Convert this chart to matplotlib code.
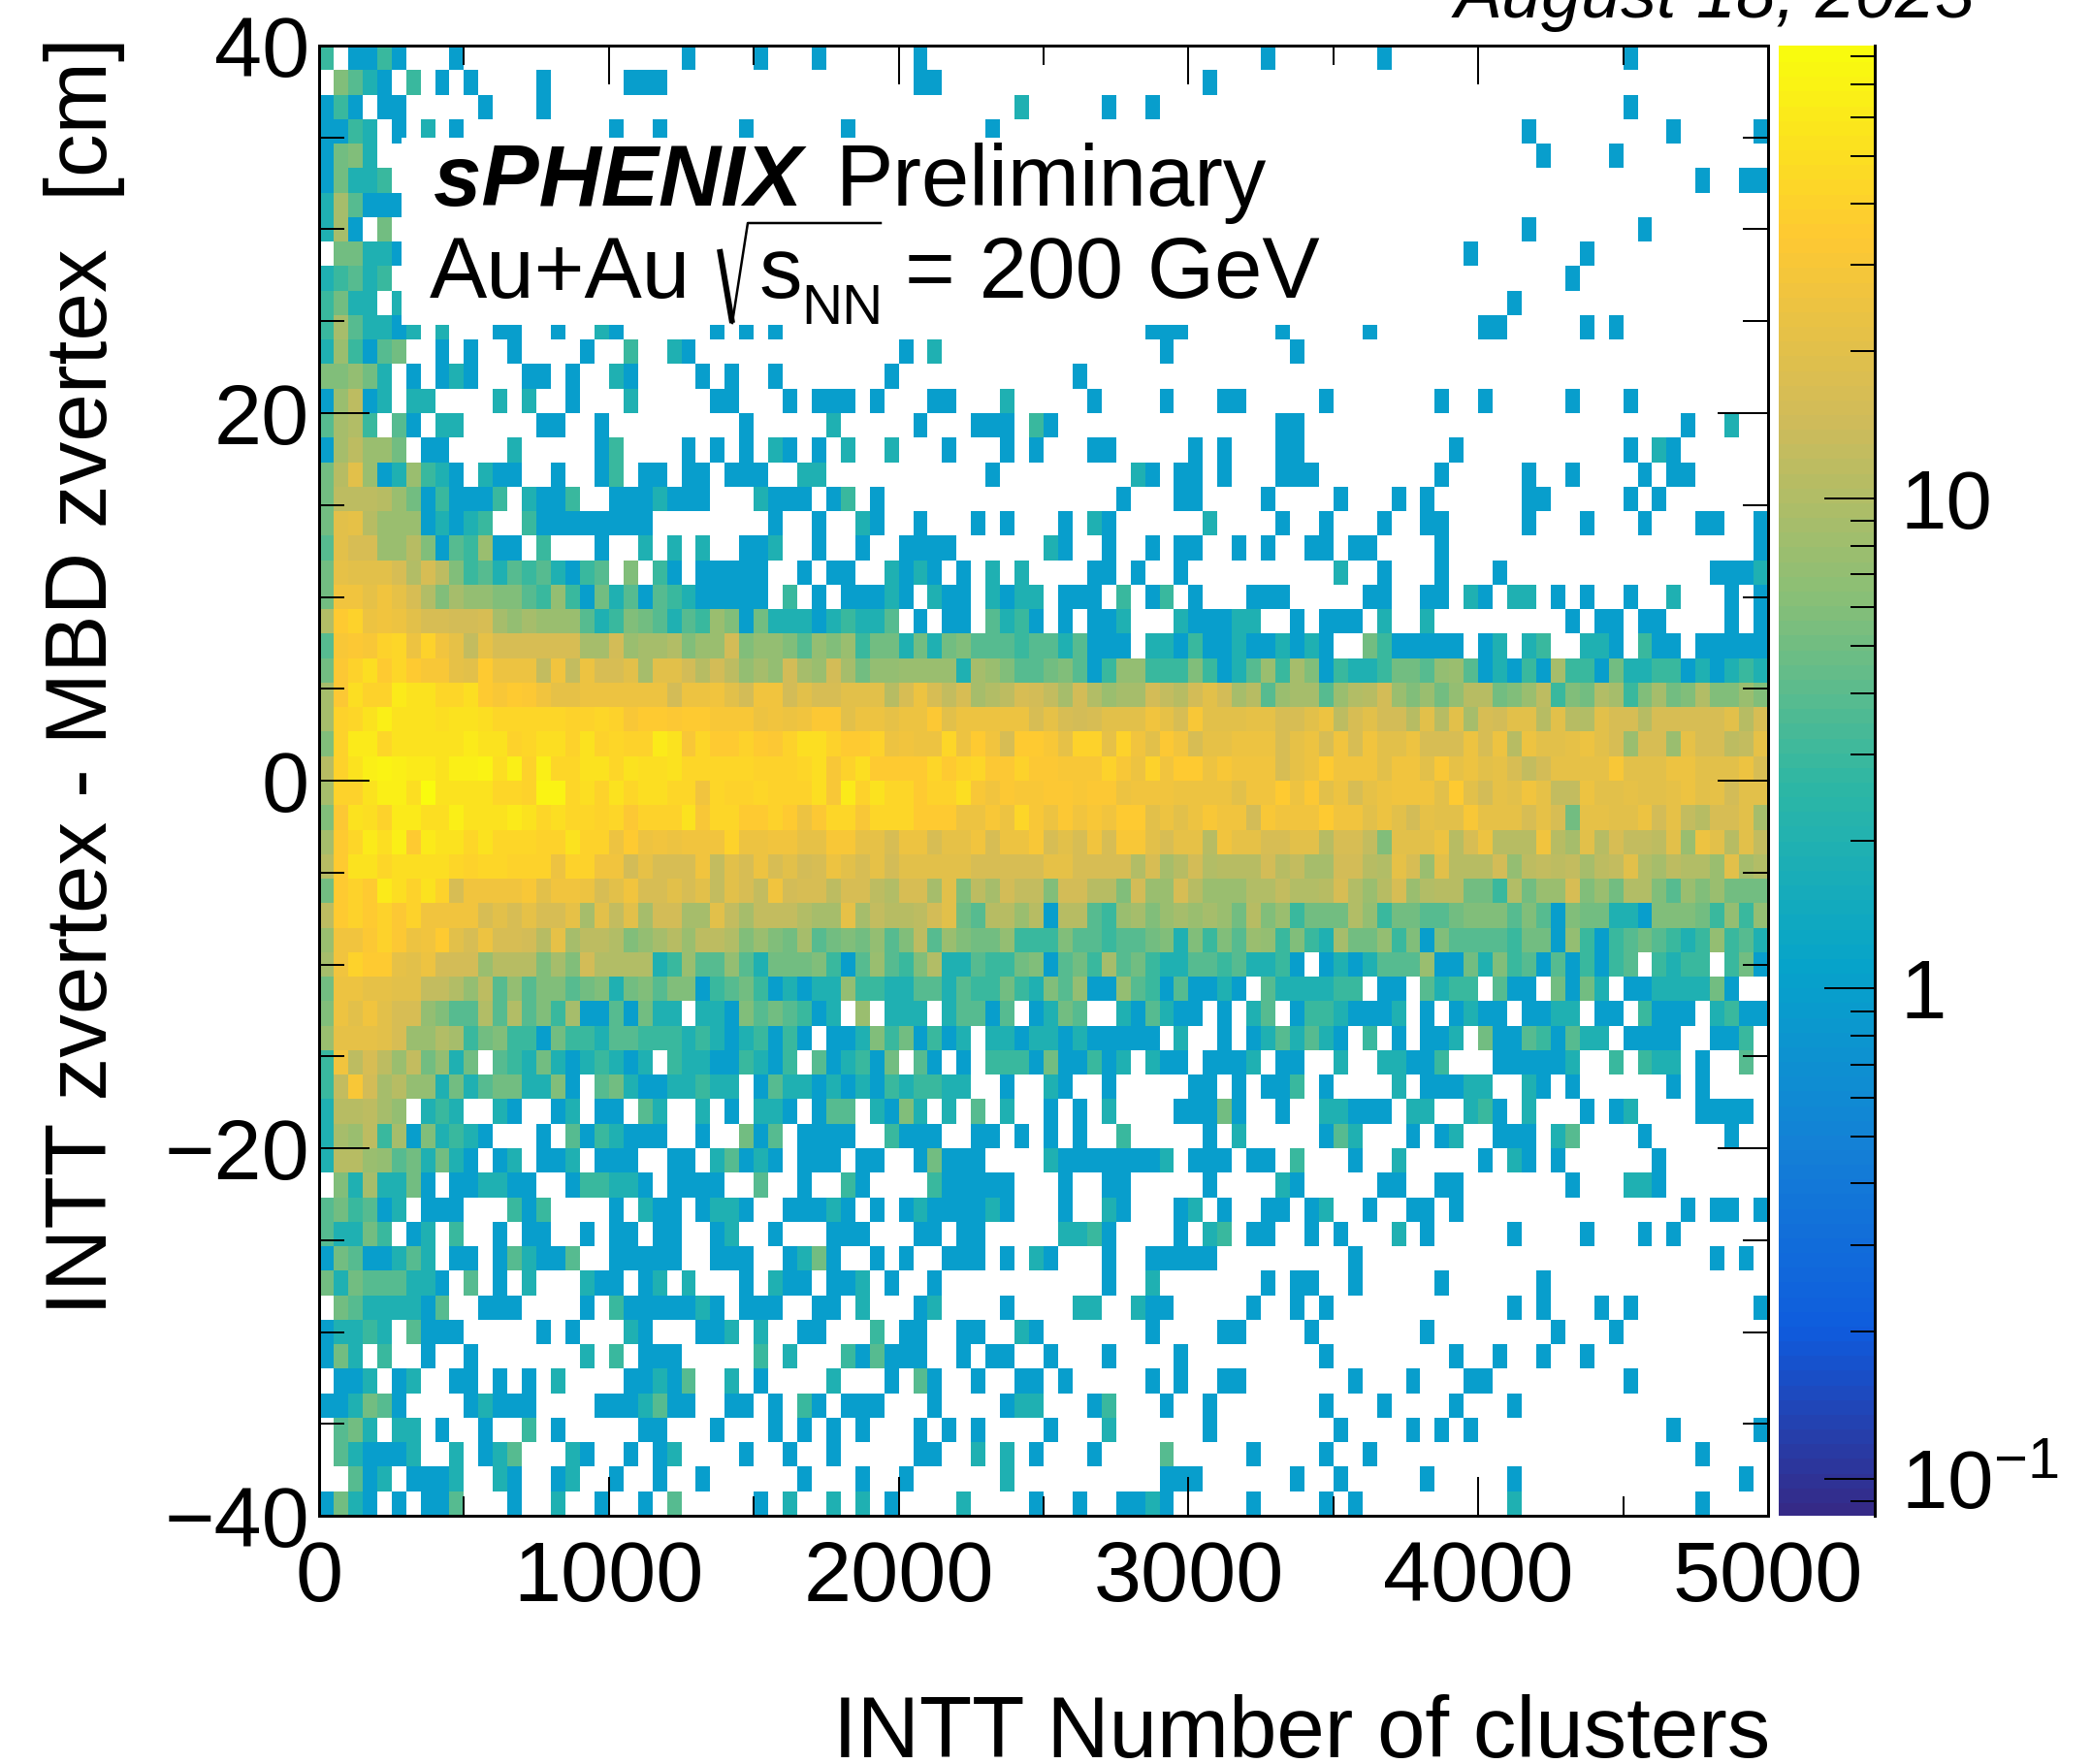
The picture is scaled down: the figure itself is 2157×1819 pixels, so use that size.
import numpy as np
import matplotlib
matplotlib.use("Agg")
import matplotlib.pyplot as plt
from matplotlib.colors import LinearSegmentedColormap, LogNorm
from matplotlib.lines import Line2D
from matplotlib.patches import Rectangle

W, H = 2157, 1819
plt.rcParams['font.family'] = ['Liberation Sans', 'DejaVu Sans']
plt.rcParams['mathtext.fontset'] = 'custom'
plt.rcParams['mathtext.rm'] = 'Liberation Sans'
plt.rcParams['mathtext.default'] = 'rm'

# bin contents: one character per bin, top row (z = +40) first
LEVELS = {'.': 0, '1': 1, '2': 2, '3': 3, '4': 4, '5': 5, '6': 6, '7': 7, '8': 8, '9': 9,
          'a': 10, 'b': 11, 'c': 12, 'd': 13, 'e': 15, 'f': 17, 'g': 20, 'h': 22, 'i': 25,
          'j': 27, 'k': 30, 'l': 33, 'm': 36, 'n': 40, 'o': 45, 'p': 50, 'q': 55, 'r': 60,
          's': 65, 't': 72, 'u': 84}
E = ".........."
ROWS = [
 "3.1131...1 " + E + " .....1.... 1...1..... .1........ " + E + " .....1.... ...1...... " + E + " 1.........",
 ".6421.3.1. 1....1.... .111...... " + E + " .11....... " + E + " .1........ " + E + " " + E + " " + E,
 "131.11.... .1...1.... " + E + " " + E + " ........2. ....1..1.. " + E + " " + E + " " + E + " 1.........",
 "1132.1.2.1 " + E + " 1..1.....1 ......1... ......1... " + E + " " + E + " " + E + " ...1...... ...1.....1",
 "1562...... " + E + " " + E + " " + E + " " + E + " " + E + " " + E + " " + E + " ....1....1 " + E,
 "15223..... " + E + " " + E + " " + E + " " + E + " " + E + " " + E + " " + E + " " + E + " .....1..11",
 "294111.... " + E + " " + E + " " + E + " " + E + " " + E + " " + E + " " + E + " " + E + " " + E,
 "291.5..... " + E + " " + E + " " + E + " " + E + " " + E + " " + E + " " + E + " ...1...... .1........",
 ".55221.... " + E + " " + E + " " + E + " " + E + " " + E + " " + E + " .........1 .......1.. " + E,
 "23423..... " + E + " " + E + " " + E + " " + E + " " + E + " " + E + " " + E + " ......1... " + E,
 "3522.2.... " + E + " " + E + " " + E + " " + E + " " + E + " " + E + " " + E + " ..1....... " + E,
 "3942212.2. ..11..1..2 1......1.1 .1........ " + E + " .......111 ......1... ..1....... 11.....1.1 " + E,
 "283145..1. 1..1....1. .3..21.... " + E + " 1.2....... ........1. .......1.. " + E + " " + E + " " + E,
 "66752.1.12 1...11.1.. 21....1.1. .1.......1 " + E + " ..1....... " + E + " " + E + " " + E + " " + E,
 "18c12.22.. ..2.2..1.. .2.....11. ..1.111.1. ..11...2.. ...1....1. ..11.....1 .......1.. 1.....1... 1.........",
 "49a3.41.22 .....11..1 .........1 .....2.... .1...111.3 1......... ......11.. " + E + " " + E + " ....1..2..",
 "19c885.11. ...2.....1 3....1.1.1 .21.1.2..2 ...1...1.1 ...11..... 1.1...11.. ........1. " + E + " 1.21......",
 "5bg8128321 .211..1..1 3.11.11.11 1..22..... ......1... ......21.1 1.1...111. .......1.. ...1..1... .1.11.....",
 "5cccb85131 113.2113.. 1112111... 2111.13.1. " + E + " .....1...1 1....1.... 1...1.1... ...11..... 1.1.......",
 "5ghb888121 23..311111 111....... .1..1..21. .1...1.1.. .1.21..... .2....1..1 ...1..11.. ...1...1.. .1...11..1",
 "4gff88b614 3811.3...1 ..2.2.2..1 12..1..1.. 1111...... 21..1..1.1 1..1.1..11 .11....1.. " + E + " .........1",
 "5hgggfafc6 3424342134 .6.31.1111 1..1.11..2 121.1.2.2. ...11.1..1 " + E + " 2..1...1.. .1........ ......1112",
 "5jjhjhfa69 7766437315 2414321111 1.3.1.1112 1.211.2122 .111.3.13. 1...111... ..11..11.2 1.22.1.1.. 1..2...1.1",
 "amnijigffe ef97988842 3654243861 5222123224 .1.11.4231 .1.112...2 11122..1.1 11.2..2... ......1.11 .11....1.1",
 "4klknoinjh dhffffff99 e899a688e6 7764768355 2525644434 424111.221 3112112121 ..5311111. 12.23..221 .311.11111",
 "5lnpmomkkh gmiiidjdif fg9ggebec7 97e98e9577 8888298644 5641377333 6312483961 3223554784 1213193315 2233121232",
 "9lpnnrqqoo pmkmljhhii iiiieiijge jjegffgggb fifdf9acfe d9ea899edb ege9b48994 8abe86857b b568c365a9 36956a6686",
 "9noqsqqqpq qpooooonno nkmmlmmkkk ijijllgiih iilgiiiiif hfefgggjhf kggghhffgi cfgeebgbg9 feggbgbagf fbfffffgbf",
 "6nrroqqqqq rqqnoppnqn onnrqkommn mlnppnmmni jiioimjfmm khnnhnjglj fhhiiifhif jfjggifffi fibigghigf 8ff8hffcdh",
 "bnqstsrrqs stpsnsooqq oqppqooooo nnnopknpmm mmomnollnl lkkknkinjm mikjjjfhim jjjgjjgkhi ghfdehhhhk gggiigggif",
 "9nnqsspuqq qqoonttopn qoppoojonn onnnpkrnqo omnnpkjlkk llkllijjji iiigjjmilg ifhijjjgmg ehgjhddigg hgghighegg",
 "6lqpnrrpps qqqrqopoon olnnnqkoom mnmilookoo ommmiikiok iljkjmmgig ikjjekjjjm jjgigehggk hhhfhf5hhg giehdbffg9",
 "9morpsmrqq oqooonnqnn imijijjjni ijjhhkkhhf iifhhjfiik fgfjfkkgfh hbjhhffggb ffd6gggibf ibbbjb9gbf ddcg8igbgd",
 "bmqqoppppo noonnninnj jehfffjdgf ifgefigfhe gggggfffff hhffffaf9b eabbbebd99 eebahf8gbb be7cdcd9cd ga9caa8g9a",
 "5mnmrpnqnf jjjjkgjjif gjffgfgdgf djeffcffca ff9g6c9edd 6eebb6e88f b888aadaab fa8bf8abb5 53a588f685 aa64868555",
 "cmnmnlnjjj jfgfhffh9g dg9ee99gd9 ddda99h9db bceg54bb8b 1bb4389689 8985b68355 5a73554456 6646416552 2166653737",
 "8jjlnlijmg fiffebh9cc a679b8cca6 8659456574 6c48655733 3644344562 6364873632 9557361644 4435517313 4543237342",
 "9jnmmhgiee e8bbb696ea aaa2384474 2555631484 36a2243356 1453945322 44342231.1 2124448115 2634141313 4.3233.351",
 "5iihhggdda 7c47466456 2564661345 3121227332 2442433532 6471174314 1121.42222 33.11.4233 .411.5152. 11222251..",
 "6igjgff764 4a4a463911 41522.2216 454312.8.2 22.24414.1 254..21421 1.1.24.133 21112.1.12 11.1122.11 .3111.2311",
 "8hhhgf88a9 3563315332 4433323212 3131.11263 51312.2212 21211111.2 ..1.124242 1.3.1.112. 511431422. 1111..113.",
 "3jcfc8d572 5.43252123 212.322113 213.412315 .41.1.3331 511312.211 .1112.11.. 2..22113.. .111112..3 .322.1..4.",
 "3dke9b7725 24552261.4 521122322. 1422121213 23322..1.. 21..1..... 11.1.113.1 ....2.1112 2..21.1... ...1.1....",
 "2bbc97.232 ..21..12.1 1.42..2.1. 221.144.21 62.2.4.2.. 1.1.2....1 1151..1..2 2111.22..2 31.2...1.1 2....1111.",
 "298c391623 21...1.413 2111..1..5 14.1111..3 111..11.1. 1.1..3.... .1.2.....1 42...1.12. .111.24... .1.....1..",
 "2bb8745252 1.12.112.1 11..11.241 21.111.11. .15111.... 211111112. 111.11.3.. .1..2..... 1.21.1.... ..1.......",
 ".6292251.1 12211..133 221.1111.. 4..1..31.. ..311111.. .1..11.... .1....21.. ...11..11. ......1... 221.......",
 "453412.111 ...313.... 1.211.1221 ..11121.1. 12111121.. .1..21...1 2.1..11.12 ..1..11.1. " + E + " ....1.11.1",
 "42253.12.3 ..1.11..1. 11.11..12. .1...111.. .11.11.... .2231....1 .23.11..1. 1...2.1... ..1....1.. .1.1......",
 "15411242.1 1.142114.. 11111..111 ..1251..1. 1..111.1.2 1...1..111 11........ .1........ " + E + " ......1.1.",
 "525444221. 4.1.2...21 1.12.2...1 .211.112.1 ..1....... ....1..2.. .....1.11. .1.....1.. ....1..... " + E,
 ".54222214. .111....1. 31111121.1 11..11.2.. .12....1.. ..22..211. ....1..1.1 " + E + " ..1.1...1. 1........1",
 "12232.4111 .....1.1.. .21...112. 2..11...3. 11..11..21 .......1.. ..11....1. ......1... .....1...1 " + E,
 "152.3..1.. 1.......2. 3.111..... 3.2...3141 11..1.11.. 1...1....1 .........1 ........1. .1..1..1.. " + E,
 ".112.12..1 1.1.1.2... .11214..2. 1....2...1 .41..1..11 .1.....1.1 ..11...... .1...1...1 1......... 1.........",
 "112541.... 12111....1 112411..11 .1.31.111. ..1....122 ...13...1. .1.......1 ...1....1. ..1....... " + E,
 ".452.22.1. .1..3.1... ..11...1.. .1.1.1.1.. .1.1.1.... 1...2..... .1........ 1....1.1.1 " + E + " ...1.....1",
 ".421112..2 .124...21. .1.12....1 ..1..1.... .11..2.2.1 ...1....4. ....1....1 ..1....... " + E + " .....1....",
 "..412.1112 ..21..12.. 1..1..1... ...1...1.. 1......2.. ........11 1......1.. 1.....1... ..1....... ........1.",
 "1521.1.114 ...1..2..1 ..1.4..... 1.2..2.2.1 ....2....1 ..1..1121. ....1....1 .1........ ..2....... .....1....",
]

X_TICKS = [0, 1000, 2000, 3000, 4000, 5000]
X_MINOR = [500, 1500, 2500, 3500, 4500]
Y_TICKS = [-40, -20, 0, 20, 40]
Y_MINOR = [-35, -30, -25, -15, -10, -5, 5, 10, 15, 25, 30, 35]
Y_LABELS = ['\u221240', '\u221220', '0', '20', '40']
CB_TICKS = [0.1, 1, 10]
CB_LABELS = ['$10^{\u22121}$', '1', '10']
CB_MINOR = [0.09, 0.2, 0.3, 0.4, 0.5, 0.6, 0.7, 0.8, 0.9, 2, 3, 4, 5, 6, 7, 8, 9,
            20, 30, 40, 50, 60, 70, 80]
VMIN, VMAX = 0.084, 84

BIRD = [(0.2082, 0.1664, 0.5293), (0.0592, 0.3599, 0.8684), (0.0780, 0.5041, 0.8385),
        (0.0232, 0.6419, 0.7914), (0.1802, 0.7178, 0.6425), (0.5301, 0.7492, 0.4662),
        (0.8186, 0.7328, 0.3499), (0.9956, 0.7862, 0.1968), (0.9764, 0.9832, 0.0539)]
cmap = LinearSegmentedColormap.from_list('bird', BIRD, N=100)
cmap.set_bad('white')

grid = []
for i, r in enumerate(ROWS):
    s = r.replace(' ', '')
    assert len(s) == 100, (i, len(s))
    grid.append([LEVELS[c] for c in s])
grid = np.array(grid, dtype=float)[::-1]
assert grid.shape == (60, 100)
Z = np.ma.masked_equal(grid, 0)

PX = 72 / 100  # points per pixel at dpi 100
L, R, T, B = 329, 1823, 47, 1563
fig = plt.figure(figsize=(W / 100, H / 100), dpi=100, facecolor='white')
def fx(x): return x / W
def fy(y): return 1 - y / H

ax = fig.add_axes([fx(L), fy(B), (R - L) / W, (B - T) / H])
xe = np.linspace(0, 5000, Z.shape[1] + 1)
ye = np.linspace(-40, 40, Z.shape[0] + 1)
norm = LogNorm(vmin=VMIN, vmax=VMAX)
mesh = ax.pcolormesh(xe, ye, Z, cmap=cmap, norm=norm, edgecolors='none', antialiased=False)
ax.set_xlim(0, 5000)
ax.set_ylim(-40, 40)
ax.set_xticks(X_TICKS)
ax.set_xticks(X_MINOR, minor=True)
ax.set_yticks(Y_TICKS)
ax.set_yticks(Y_MINOR, minor=True)
ax.set_yticklabels(Y_LABELS)
FS = 63.5
ax.tick_params(axis='x', which='major', direction='in', top=True, bottom=True, length=40 * PX,
               width=2 * PX, labelsize=FS, pad=25 * PX)
ax.tick_params(axis='x', which='minor', direction='in', top=True, bottom=True, length=20 * PX, width=2 * PX)
ax.tick_params(axis='y', which='major', direction='in', left=True, right=True, length=52 * PX,
               width=2 * PX, labelsize=FS, pad=10 * PX)
ax.tick_params(axis='y', which='minor', direction='in', left=True, right=True, length=26 * PX, width=2 * PX)
for s in ax.spines.values():
    s.set_linewidth(3 * PX)
ax.set_axisbelow(False)

# white box behind the label text
fig.add_artist(Rectangle((fx(414), fy(335)), (1470 - 414) / W, (335 - 142) / H,
                         transform=fig.transFigure, facecolor='white', edgecolor='none', zorder=2))

# colour scale
cax = fig.add_axes([fx(1834), fy(B), (1933 - 1834) / W, (B - T) / H])
cb = fig.colorbar(mesh, cax=cax)
cb.outline.set_visible(False)
cb.solids.set_edgecolor('face')
cb.set_ticks(CB_TICKS, labels=CB_LABELS)
cax.yaxis.set_ticks(CB_MINOR, minor=True)
cax.tick_params(axis='y', which='major', direction='in', right=True, length=52 * PX, width=2 * PX,
                labelsize=61.5, pad=27 * PX)
cax.tick_params(axis='y', which='minor', direction='in', right=True, length=25 * PX, width=2 * PX,
                labelright=False)
cax.add_line(Line2D([1, 1], [0, 1], transform=cax.transAxes, color='black', lw=3 * PX, clip_on=False))

def t(x, y, s, **kw):
    kw.setdefault('fontsize', 64)
    kw.setdefault('va', 'baseline')
    kw.setdefault('zorder', 5)
    return fig.text(fx(x), fy(y), s, **kw)

t(447, 212, 'sPHENIX', fontweight='bold', fontstyle='italic')
t(862, 212, 'Preliminary')
t(443, 307, 'Au+Au')
t(782, 307, 's')
t(826, 334, 'NN', fontsize=42)
t(933, 307, '= 200 GeV')
# radical sign: heavy falling stroke, thin rising stroke and overbar
fig.add_artist(Line2D([fx(742), fx(755)], [fy(257), fy(333)], transform=fig.transFigure,
                      color='black', lw=6 * PX, zorder=5, solid_capstyle='butt'))
fig.add_artist(Line2D([fx(755), fx(771), fx(908)], [fy(333), fy(230), fy(230)],
                      transform=fig.transFigure, color='black', lw=2.5 * PX, zorder=5))
t(1825, 1812, 'INTT Number of clusters', ha='right', fontsize=64)
t(110, 38, 'INTT zvertex - MBD zvertex  [cm]', rotation=90, rotation_mode='anchor', ha='right', fontsize=64.3)
t(2037, 18, 'August 18, 2023', ha='right', fontstyle='italic', fontsize=53)

fig.savefig('out.png', dpi=100, facecolor='white')
